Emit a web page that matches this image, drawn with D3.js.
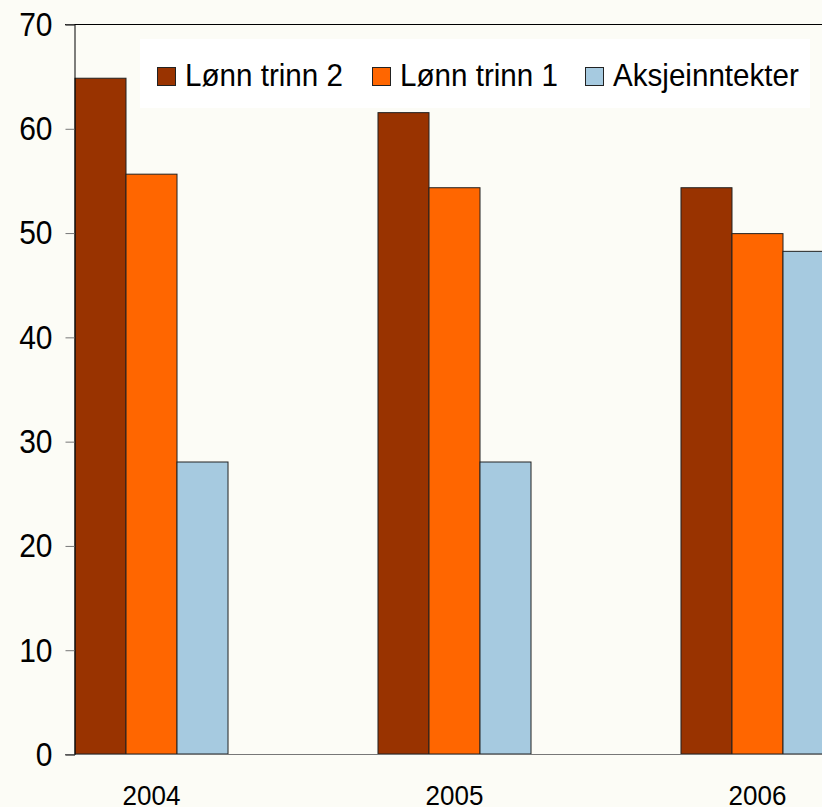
<!DOCTYPE html>
<html>
<head>
<meta charset="utf-8">
<script src="https://cdn.jsdelivr.net/npm/d3@7"></script>
<style>
  body { margin: 0; background: #fcfcf6; }
  svg { display: block; font-family: "Liberation Sans", Arial, sans-serif; }
</style>
</head>
<body>
<div id="chart"></div>
<script>
const years = ["2004", "2005", "2006"];
const seriesNames = ["Lønn trinn 2", "Lønn trinn 1", "Aksjeinntekter"];
const lonnTrinn2 = [64.8, 61.5, 54.3];
const lonnTrinn1 = [55.6, 54.3, 49.9];
const aksjeinntekter = [28.0, 28.0, 48.2];
const yTicks = [0, 10, 20, 30, 40, 50, 60, 70];
const colors = ["#993300", "#ff6600", "#a6cae0"];

const W = 822, H = 807;
const stretch = 1.08; // text in the picture is a bit taller than wide
const seriesValues = [lonnTrinn2, lonnTrinn1, aksjeinntekter];
const rows = years.map((yr, i) => ({
  year: yr,
  vals: seriesNames.map((s, k) => ({ key: s, k: k, value: seriesValues[k][i] }))
}));

const svg = d3.select("#chart").append("svg")
  .attr("width", W).attr("height", H);

svg.append("rect").attr("width", W).attr("height", H).attr("fill", "#fcfcf6");

const axisX = 74;
const y = d3.scaleLinear().domain([0, 70]).range([754, 24]);

const x0 = d3.scaleBand().domain(years)
  .range([75, 834]).paddingInner(0.495).paddingOuter(0);
const x1 = d3.scaleBand().domain(seriesNames).range([0, x0.bandwidth()]);

// bars
const g = svg.append("g");
g.selectAll("g.grp").data(rows).enter().append("g")
  .attr("transform", d => "translate(" + x0(d.year) + ",0)")
  .selectAll("rect").data(d => d.vals).enter().append("rect")
  .attr("x", d => x1(d.key))
  .attr("y", d => y(d.value))
  .attr("width", x1.bandwidth())
  .attr("height", d => y(0) - y(d.value))
  .attr("fill", d => colors[d.k])
  .attr("stroke", "#222")
  .attr("stroke-width", 1);

// top border line
svg.append("line")
  .attr("x1", 65).attr("x2", W).attr("y1", y(70) + 0.5).attr("y2", y(70) + 0.5)
  .attr("stroke", "#000");

// x axis baseline
svg.append("line")
  .attr("x1", 65).attr("x2", W).attr("y1", y(0) + 0.5).attr("y2", y(0) + 0.5)
  .attr("stroke", "#777");

// y axis
const yAxis = svg.append("g")
  .attr("transform", "translate(" + (axisX + 0.5) + ",0.5)")
  .call(d3.axisLeft(y).tickValues(yTicks).tickSize(9).tickPadding(13));
yAxis.select(".domain").attr("stroke", "#000");
yAxis.selectAll(".tick line").attr("stroke", "#777");
yAxis.selectAll(".tick text")
  .attr("font-size", 30)
  .attr("fill", "#000")
  .attr("dy", null)
  .attr("dominant-baseline", "central")
  .attr("transform", "scale(1," + stretch + ")")
  .style("font-family", "Liberation Sans, Arial, sans-serif");

// year labels
svg.append("g").selectAll("text").data(years).enter().append("text")
  .attr("transform", d => "translate(" + (x0(d) + x0.bandwidth() / 2) + ",805) scale(1," + stretch + ")")
  .attr("text-anchor", "middle")
  .attr("font-size", 26)
  .text(d => d);

// legend
const legend = svg.append("g");
legend.append("rect")
  .attr("x", 140).attr("y", 39).attr("width", 670).attr("height", 69)
  .attr("fill", "#ffffff");
const legX = [157, 372, 585];
seriesNames.forEach((s, k) => {
  legend.append("rect")
    .attr("x", legX[k] + 0.5).attr("y", 67.5)
    .attr("width", 18).attr("height", 18)
    .attr("fill", colors[k]).attr("stroke", "#222");
  legend.append("text")
    .attr("transform", "translate(" + (legX[k] + 28) + ",86) scale(1," + stretch + ")")
    .attr("font-size", 29.6)
    .text(s);
});
</script>
</body>
</html>
